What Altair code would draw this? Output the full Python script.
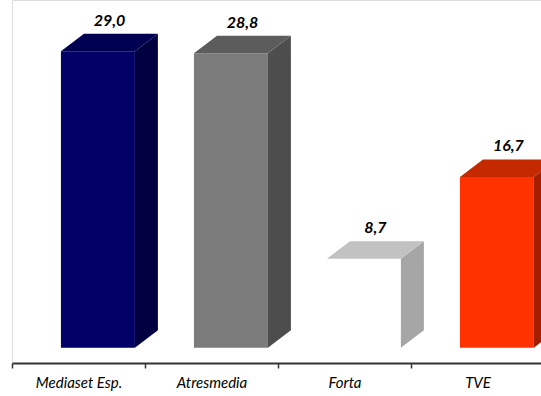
import altair as alt
import pandas as pd

categories = ["Mediaset Esp.", "Atresmedia", "Forta", "TVE"]
values = [29.0, 28.8, 8.7, 16.7]
labels = ["29,0", "28,8", "8,7", "16,7"]
front_colors = ["#000066", "#7b7b7b", "#ffffff", "#ff3300"]
top_colors = ["#000050", "#5c5c5c", "#c2c2c2", "#c42900"]
side_colors = ["#000040", "#4d4d4d", "#a6a6a6", "#a31f00"]

# 3D geometry (in x-band units and y data units)
L = 0.368   # front-face offset within band
W = 0.556   # front-face width
DX = 0.173  # depth in x
DY = 1.71   # depth in y

front_rows, side_rows, top_rows, text_rows = [], [], [], []
for i, (c, v) in enumerate(zip(categories, values)):
    front_rows.append(dict(cat=c, x=i + L, x2=i + L + W, y=0, y2=v, col=front_colors[i]))
    side_rows.append(dict(cat=c, x=i + L + W, y=v, y2=0, col=side_colors[i]))
    side_rows.append(dict(cat=c, x=i + L + W + DX, y=v + DY, y2=DY, col=side_colors[i]))
    top_rows.append(dict(cat=c, y=v, x=i + L, x2=i + L + W, col=top_colors[i]))
    top_rows.append(dict(cat=c, y=v + DY, x=i + L + DX, x2=i + L + W + DX, col=top_colors[i]))
    text_rows.append(dict(cat=c, x=i + L + (W + DX) / 2, y=v + DY, label=labels[i]))

front_df = pd.DataFrame(front_rows)
side_df = pd.DataFrame(side_rows)
top_df = pd.DataFrame(top_rows)
text_df = pd.DataFrame(text_rows)

FONT = "Lato"
xscale = alt.Scale(domain=[0, 529 / 133], nice=False, zero=False)
yscale = alt.Scale(domain=[-1.5, 34], nice=False, zero=False)

label_expr = "[" + ",".join("'%s'" % c for c in categories) + "][datum.value]"

front = alt.Chart(front_df).mark_rect(clip=True).encode(
    x=alt.X("x:Q", scale=xscale, title=None,
            axis=alt.Axis(values=[0, 1, 2, 3], labelExpr=label_expr, grid=False,
                          domainColor="#333333", domainWidth=2, tickColor="#333333",
                          tickWidth=1.5, tickSize=5, labelOffset=66.5,
                          labelFont=FONT, labelFontSize=15, labelFontStyle="italic",
                          labelColor="#000000", labelPadding=7, labelFlush=False,
                          labelOverlap=False)),
    x2="x2:Q",
    y=alt.Y("y:Q", scale=yscale, axis=None),
    y2="y2:Q",
    color=alt.Color("col:N", scale=None),
)

side = alt.Chart(side_df).mark_area(clip=True).encode(
    x=alt.X("x:Q", scale=xscale),
    y=alt.Y("y:Q", scale=yscale, stack=None),
    y2="y2:Q",
    detail="cat:N",
    color=alt.Color("col:N", scale=None),
)

top = alt.Chart(top_df).mark_area(orient="horizontal", clip=True).encode(
    y=alt.Y("y:Q", scale=yscale),
    x=alt.X("x:Q", scale=xscale, stack=None),
    x2="x2:Q",
    detail="cat:N",
    color=alt.Color("col:N", scale=None),
)

text = alt.Chart(text_df).mark_text(
    font=FONT, fontSize=16, fontWeight="bold", fontStyle="italic",
    color="#000000", baseline="alphabetic", dy=-8,
).encode(
    x=alt.X("x:Q", scale=xscale),
    y=alt.Y("y:Q", scale=yscale),
    text="label:N",
)

chart = alt.layer(front, side, top, text).properties(
    width=529, height=363,
    autosize=alt.AutoSizeParams(type="none"),
    padding={"left": 12, "top": 0, "right": 0, "bottom": 33},
).configure_view(stroke=None).configure(background="#ffffff")

chart.save("out.html", embed_options={"renderer": "svg", "actions": False})
